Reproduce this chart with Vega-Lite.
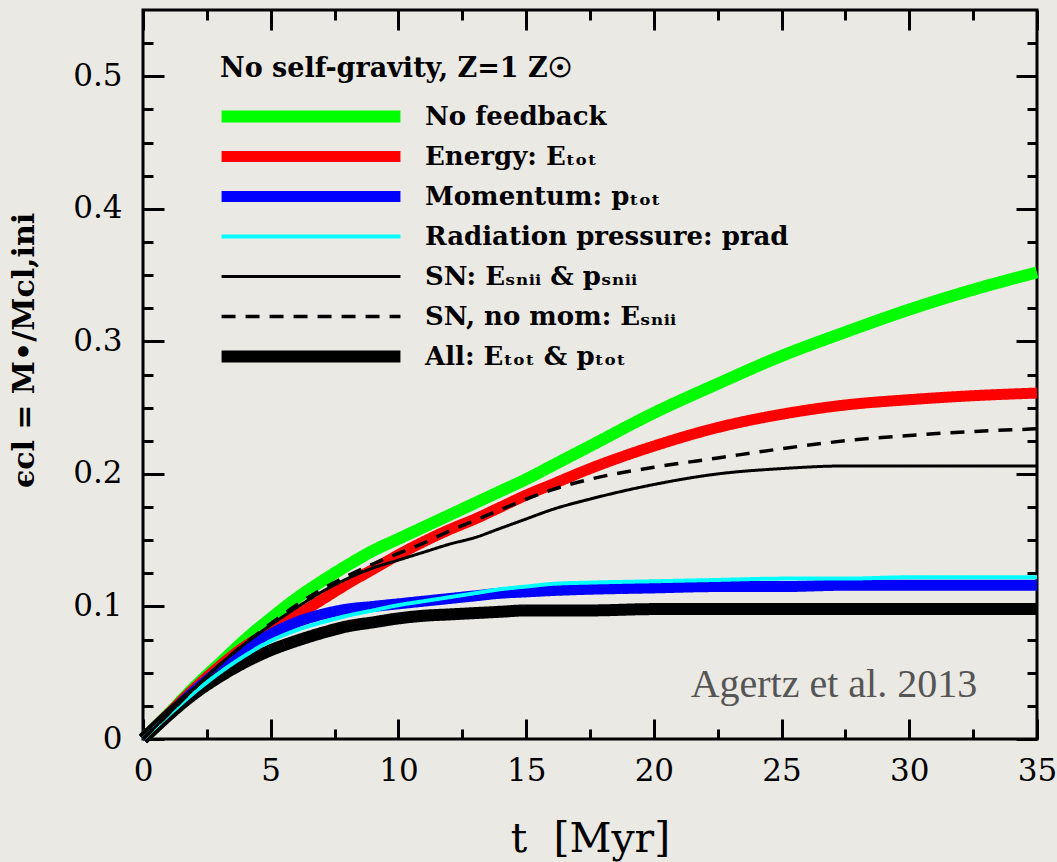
{
  "$schema": "https://vega.github.io/schema/vega-lite/v6.json",
  "width": 894,
  "height": 729,
  "autosize": "none",
  "padding": {"left": 143, "top": 10, "right": 20, "bottom": 123},
  "background": "#ebe9e4",
  "config": {
    "view": {"stroke": "#000000", "strokeWidth": 3},
    "axis": {
      "domain": false,
      "grid": false,
      "tickColor": "#000000",
      "tickWidth": 3,
      "tickCap": "butt",
      "labelFont": "DejaVu Serif",
      "labelFontSize": 31,
      "labelColor": "#000000",
      "labelFlush": false,
      "labelOverlap": false,
      "titleColor": "#000000"
    },
    "legend": {
      "orient": "none",
      "legendX": 77,
      "legendY": 46,
      "padding": 0,
      "symbolType": "M-20,0H20",
      "symbolSize": 80,
      "symbolOffset": 78,
      "labelOffset": 101,
      "clipHeight": 25,
      "labelFont": "DejaVu Serif",
      "labelFontWeight": "bold",
      "labelFontSize": 26,
      "labelColor": "#000000",
      "labelLimit": 0,
      "titleFont": "DejaVu Serif",
      "titleFontWeight": "bold",
      "titleFontSize": 27,
      "titleColor": "#000000",
      "titlePadding": 21,
      "titleLimit": 0,
      "rowPadding": 13
    }
  },
  "data": {
    "values": [
      {"run": "No feedback", "t": 0, "eps": 0}, {"run": "No feedback", "t": 1, "eps": 0.019}, {"run": "No feedback", "t": 2, "eps": 0.039}, {"run": "No feedback", "t": 3, "eps": 0.057}, {"run": "No feedback", "t": 4, "eps": 0.075}, {"run": "No feedback", "t": 5, "eps": 0.091}, {"run": "No feedback", "t": 6, "eps": 0.106}, {"run": "No feedback", "t": 7, "eps": 0.119}, {"run": "No feedback", "t": 8, "eps": 0.131}, {"run": "No feedback", "t": 9, "eps": 0.142}, {"run": "No feedback", "t": 10, "eps": 0.151}, {"run": "No feedback", "t": 11, "eps": 0.160}, {"run": "No feedback", "t": 12, "eps": 0.169}, {"run": "No feedback", "t": 13, "eps": 0.178}, {"run": "No feedback", "t": 14, "eps": 0.187}, {"run": "No feedback", "t": 15, "eps": 0.196}, {"run": "No feedback", "t": 16, "eps": 0.206}, {"run": "No feedback", "t": 17.5, "eps": 0.221}, {"run": "No feedback", "t": 20, "eps": 0.246}, {"run": "No feedback", "t": 22.5, "eps": 0.268}, {"run": "No feedback", "t": 25, "eps": 0.289}, {"run": "No feedback", "t": 27.5, "eps": 0.307}, {"run": "No feedback", "t": 30, "eps": 0.324}, {"run": "No feedback", "t": 32.5, "eps": 0.339}, {"run": "No feedback", "t": 35, "eps": 0.352},

      {"run": "Energy: Eₜₒₜ", "t": 0, "eps": 0}, {"run": "Energy: Eₜₒₜ", "t": 1, "eps": 0.019}, {"run": "Energy: Eₜₒₜ", "t": 2, "eps": 0.038}, {"run": "Energy: Eₜₒₜ", "t": 3, "eps": 0.055}, {"run": "Energy: Eₜₒₜ", "t": 4, "eps": 0.070}, {"run": "Energy: Eₜₒₜ", "t": 5, "eps": 0.081}, {"run": "Energy: Eₜₒₜ", "t": 6, "eps": 0.093}, {"run": "Energy: Eₜₒₜ", "t": 7, "eps": 0.105}, {"run": "Energy: Eₜₒₜ", "t": 8, "eps": 0.117}, {"run": "Energy: Eₜₒₜ", "t": 9, "eps": 0.128}, {"run": "Energy: Eₜₒₜ", "t": 10, "eps": 0.139}, {"run": "Energy: Eₜₒₜ", "t": 11, "eps": 0.149}, {"run": "Energy: Eₜₒₜ", "t": 12, "eps": 0.158}, {"run": "Energy: Eₜₒₜ", "t": 13, "eps": 0.166}, {"run": "Energy: Eₜₒₜ", "t": 14, "eps": 0.175}, {"run": "Energy: Eₜₒₜ", "t": 15, "eps": 0.184}, {"run": "Energy: Eₜₒₜ", "t": 16, "eps": 0.192}, {"run": "Energy: Eₜₒₜ", "t": 17.5, "eps": 0.204}, {"run": "Energy: Eₜₒₜ", "t": 20, "eps": 0.221}, {"run": "Energy: Eₜₒₜ", "t": 22.5, "eps": 0.235}, {"run": "Energy: Eₜₒₜ", "t": 25, "eps": 0.245}, {"run": "Energy: Eₜₒₜ", "t": 27.5, "eps": 0.252}, {"run": "Energy: Eₜₒₜ", "t": 30, "eps": 0.256}, {"run": "Energy: Eₜₒₜ", "t": 32.5, "eps": 0.259}, {"run": "Energy: Eₜₒₜ", "t": 35, "eps": 0.261},

      {"run": "Momentum: pₜₒₜ", "t": 0, "eps": 0}, {"run": "Momentum: pₜₒₜ", "t": 1, "eps": 0.018}, {"run": "Momentum: pₜₒₜ", "t": 2, "eps": 0.036}, {"run": "Momentum: pₜₒₜ", "t": 3, "eps": 0.052}, {"run": "Momentum: pₜₒₜ", "t": 4, "eps": 0.067}, {"run": "Momentum: pₜₒₜ", "t": 5, "eps": 0.079}, {"run": "Momentum: pₜₒₜ", "t": 6, "eps": 0.088}, {"run": "Momentum: pₜₒₜ", "t": 7, "eps": 0.094}, {"run": "Momentum: pₜₒₜ", "t": 8, "eps": 0.098}, {"run": "Momentum: pₜₒₜ", "t": 9, "eps": 0.100}, {"run": "Momentum: pₜₒₜ", "t": 10, "eps": 0.102}, {"run": "Momentum: pₜₒₜ", "t": 11, "eps": 0.104}, {"run": "Momentum: pₜₒₜ", "t": 12, "eps": 0.106}, {"run": "Momentum: pₜₒₜ", "t": 13, "eps": 0.108}, {"run": "Momentum: pₜₒₜ", "t": 14, "eps": 0.110}, {"run": "Momentum: pₜₒₜ", "t": 15, "eps": 0.111}, {"run": "Momentum: pₜₒₜ", "t": 16, "eps": 0.112}, {"run": "Momentum: pₜₒₜ", "t": 17.5, "eps": 0.113}, {"run": "Momentum: pₜₒₜ", "t": 20, "eps": 0.114}, {"run": "Momentum: pₜₒₜ", "t": 22.5, "eps": 0.115}, {"run": "Momentum: pₜₒₜ", "t": 25, "eps": 0.115}, {"run": "Momentum: pₜₒₜ", "t": 27.5, "eps": 0.116}, {"run": "Momentum: pₜₒₜ", "t": 30, "eps": 0.116}, {"run": "Momentum: pₜₒₜ", "t": 32.5, "eps": 0.116}, {"run": "Momentum: pₜₒₜ", "t": 35, "eps": 0.116},

      {"run": "All: Eₜₒₜ & pₜₒₜ", "t": 0, "eps": 0}, {"run": "All: Eₜₒₜ & pₜₒₜ", "t": 1, "eps": 0.018}, {"run": "All: Eₜₒₜ & pₜₒₜ", "t": 2, "eps": 0.034}, {"run": "All: Eₜₒₜ & pₜₒₜ", "t": 3, "eps": 0.047}, {"run": "All: Eₜₒₜ & pₜₒₜ", "t": 4, "eps": 0.058}, {"run": "All: Eₜₒₜ & pₜₒₜ", "t": 5, "eps": 0.067}, {"run": "All: Eₜₒₜ & pₜₒₜ", "t": 6, "eps": 0.074}, {"run": "All: Eₜₒₜ & pₜₒₜ", "t": 7, "eps": 0.080}, {"run": "All: Eₜₒₜ & pₜₒₜ", "t": 8, "eps": 0.085}, {"run": "All: Eₜₒₜ & pₜₒₜ", "t": 9, "eps": 0.088}, {"run": "All: Eₜₒₜ & pₜₒₜ", "t": 10, "eps": 0.091}, {"run": "All: Eₜₒₜ & pₜₒₜ", "t": 11, "eps": 0.093}, {"run": "All: Eₜₒₜ & pₜₒₜ", "t": 12, "eps": 0.094}, {"run": "All: Eₜₒₜ & pₜₒₜ", "t": 13, "eps": 0.095}, {"run": "All: Eₜₒₜ & pₜₒₜ", "t": 14, "eps": 0.096}, {"run": "All: Eₜₒₜ & pₜₒₜ", "t": 15, "eps": 0.097}, {"run": "All: Eₜₒₜ & pₜₒₜ", "t": 16, "eps": 0.097}, {"run": "All: Eₜₒₜ & pₜₒₜ", "t": 17.5, "eps": 0.097}, {"run": "All: Eₜₒₜ & pₜₒₜ", "t": 20, "eps": 0.098}, {"run": "All: Eₜₒₜ & pₜₒₜ", "t": 22.5, "eps": 0.098}, {"run": "All: Eₜₒₜ & pₜₒₜ", "t": 25, "eps": 0.098}, {"run": "All: Eₜₒₜ & pₜₒₜ", "t": 27.5, "eps": 0.098}, {"run": "All: Eₜₒₜ & pₜₒₜ", "t": 30, "eps": 0.098}, {"run": "All: Eₜₒₜ & pₜₒₜ", "t": 32.5, "eps": 0.098}, {"run": "All: Eₜₒₜ & pₜₒₜ", "t": 35, "eps": 0.098},

      {"run": "Radiation pressure: prad", "t": 0, "eps": 0}, {"run": "Radiation pressure: prad", "t": 1, "eps": 0.018}, {"run": "Radiation pressure: prad", "t": 2, "eps": 0.035}, {"run": "Radiation pressure: prad", "t": 3, "eps": 0.050}, {"run": "Radiation pressure: prad", "t": 4, "eps": 0.063}, {"run": "Radiation pressure: prad", "t": 5, "eps": 0.074}, {"run": "Radiation pressure: prad", "t": 6, "eps": 0.082}, {"run": "Radiation pressure: prad", "t": 7, "eps": 0.088}, {"run": "Radiation pressure: prad", "t": 8, "eps": 0.093}, {"run": "Radiation pressure: prad", "t": 9, "eps": 0.097}, {"run": "Radiation pressure: prad", "t": 10, "eps": 0.101}, {"run": "Radiation pressure: prad", "t": 11, "eps": 0.104}, {"run": "Radiation pressure: prad", "t": 12, "eps": 0.107}, {"run": "Radiation pressure: prad", "t": 13, "eps": 0.110}, {"run": "Radiation pressure: prad", "t": 14, "eps": 0.113}, {"run": "Radiation pressure: prad", "t": 15, "eps": 0.115}, {"run": "Radiation pressure: prad", "t": 16, "eps": 0.117}, {"run": "Radiation pressure: prad", "t": 17.5, "eps": 0.118}, {"run": "Radiation pressure: prad", "t": 20, "eps": 0.119}, {"run": "Radiation pressure: prad", "t": 22.5, "eps": 0.120}, {"run": "Radiation pressure: prad", "t": 25, "eps": 0.121}, {"run": "Radiation pressure: prad", "t": 27.5, "eps": 0.121}, {"run": "Radiation pressure: prad", "t": 30, "eps": 0.122}, {"run": "Radiation pressure: prad", "t": 32.5, "eps": 0.122}, {"run": "Radiation pressure: prad", "t": 35, "eps": 0.122},

      {"run": "SN: Eₛₙᵢᵢ & pₛₙᵢᵢ", "t": 0, "eps": 0}, {"run": "SN: Eₛₙᵢᵢ & pₛₙᵢᵢ", "t": 1, "eps": 0.019}, {"run": "SN: Eₛₙᵢᵢ & pₛₙᵢᵢ", "t": 2, "eps": 0.038}, {"run": "SN: Eₛₙᵢᵢ & pₛₙᵢᵢ", "t": 3, "eps": 0.056}, {"run": "SN: Eₛₙᵢᵢ & pₛₙᵢᵢ", "t": 4, "eps": 0.072}, {"run": "SN: Eₛₙᵢᵢ & pₛₙᵢᵢ", "t": 5, "eps": 0.086}, {"run": "SN: Eₛₙᵢᵢ & pₛₙᵢᵢ", "t": 6, "eps": 0.099}, {"run": "SN: Eₛₙᵢᵢ & pₛₙᵢᵢ", "t": 7, "eps": 0.111}, {"run": "SN: Eₛₙᵢᵢ & pₛₙᵢᵢ", "t": 8, "eps": 0.121}, {"run": "SN: Eₛₙᵢᵢ & pₛₙᵢᵢ", "t": 9, "eps": 0.129}, {"run": "SN: Eₛₙᵢᵢ & pₛₙᵢᵢ", "t": 10, "eps": 0.135}, {"run": "SN: Eₛₙᵢᵢ & pₛₙᵢᵢ", "t": 11, "eps": 0.141}, {"run": "SN: Eₛₙᵢᵢ & pₛₙᵢᵢ", "t": 12, "eps": 0.147}, {"run": "SN: Eₛₙᵢᵢ & pₛₙᵢᵢ", "t": 13, "eps": 0.152}, {"run": "SN: Eₛₙᵢᵢ & pₛₙᵢᵢ", "t": 14, "eps": 0.159}, {"run": "SN: Eₛₙᵢᵢ & pₛₙᵢᵢ", "t": 15, "eps": 0.166}, {"run": "SN: Eₛₙᵢᵢ & pₛₙᵢᵢ", "t": 16, "eps": 0.173}, {"run": "SN: Eₛₙᵢᵢ & pₛₙᵢᵢ", "t": 17.5, "eps": 0.181}, {"run": "SN: Eₛₙᵢᵢ & pₛₙᵢᵢ", "t": 20, "eps": 0.192}, {"run": "SN: Eₛₙᵢᵢ & pₛₙᵢᵢ", "t": 22.5, "eps": 0.200}, {"run": "SN: Eₛₙᵢᵢ & pₛₙᵢᵢ", "t": 25, "eps": 0.204}, {"run": "SN: Eₛₙᵢᵢ & pₛₙᵢᵢ", "t": 27.5, "eps": 0.206}, {"run": "SN: Eₛₙᵢᵢ & pₛₙᵢᵢ", "t": 30, "eps": 0.206}, {"run": "SN: Eₛₙᵢᵢ & pₛₙᵢᵢ", "t": 32.5, "eps": 0.206}, {"run": "SN: Eₛₙᵢᵢ & pₛₙᵢᵢ", "t": 35, "eps": 0.206},

      {"run": "SN, no mom: Eₛₙᵢᵢ", "t": 0, "eps": 0}, {"run": "SN, no mom: Eₛₙᵢᵢ", "t": 1, "eps": 0.019}, {"run": "SN, no mom: Eₛₙᵢᵢ", "t": 2, "eps": 0.038}, {"run": "SN, no mom: Eₛₙᵢᵢ", "t": 3, "eps": 0.056}, {"run": "SN, no mom: Eₛₙᵢᵢ", "t": 4, "eps": 0.072}, {"run": "SN, no mom: Eₛₙᵢᵢ", "t": 5, "eps": 0.087}, {"run": "SN, no mom: Eₛₙᵢᵢ", "t": 6, "eps": 0.101}, {"run": "SN, no mom: Eₛₙᵢᵢ", "t": 7, "eps": 0.113}, {"run": "SN, no mom: Eₛₙᵢᵢ", "t": 8, "eps": 0.123}, {"run": "SN, no mom: Eₛₙᵢᵢ", "t": 9, "eps": 0.132}, {"run": "SN, no mom: Eₛₙᵢᵢ", "t": 10, "eps": 0.140}, {"run": "SN, no mom: Eₛₙᵢᵢ", "t": 11, "eps": 0.148}, {"run": "SN, no mom: Eₛₙᵢᵢ", "t": 12, "eps": 0.157}, {"run": "SN, no mom: Eₛₙᵢᵢ", "t": 13, "eps": 0.165}, {"run": "SN, no mom: Eₛₙᵢᵢ", "t": 14, "eps": 0.173}, {"run": "SN, no mom: Eₛₙᵢᵢ", "t": 15, "eps": 0.181}, {"run": "SN, no mom: Eₛₙᵢᵢ", "t": 16, "eps": 0.188}, {"run": "SN, no mom: Eₛₙᵢᵢ", "t": 17.5, "eps": 0.196}, {"run": "SN, no mom: Eₛₙᵢᵢ", "t": 20, "eps": 0.205}, {"run": "SN, no mom: Eₛₙᵢᵢ", "t": 22.5, "eps": 0.212}, {"run": "SN, no mom: Eₛₙᵢᵢ", "t": 25, "eps": 0.219}, {"run": "SN, no mom: Eₛₙᵢᵢ", "t": 27.5, "eps": 0.225}, {"run": "SN, no mom: Eₛₙᵢᵢ", "t": 30, "eps": 0.229}, {"run": "SN, no mom: Eₛₙᵢᵢ", "t": 32.5, "eps": 0.232}, {"run": "SN, no mom: Eₛₙᵢᵢ", "t": 35, "eps": 0.234}
    ]
  },
  "layer": [
    {
      "mark": {"type": "line", "interpolate": "monotone", "strokeCap": "butt", "strokeJoin": "round"},
      "encoding": {
        "x": {
          "field": "t", "type": "quantitative",
          "scale": {"domain": [0, 35], "nice": false, "zero": false},
          "axis": {
            "orient": "bottom", "values": [0, 5, 10, 15, 20, 25, 30, 35],
            "tickSize": -20, "labelPadding": 37,
            "title": "t\u00a0\u00a0[Myr]", "titleFont": "DejaVu Serif", "titleFontSize": 41, "titleFontWeight": "normal", "titlePadding": 33
          }
        },
        "y": {
          "field": "eps", "type": "quantitative",
          "scale": {"domain": [0, 0.55], "nice": false, "zero": false},
          "axis": {
            "orient": "left", "values": [0, 0.1, 0.2, 0.3, 0.4, 0.5], "format": "~g",
            "tickSize": -21, "labelPadding": 42,
            "title": "ϵcl = M•/Mcl,ini", "titleFont": "DejaVu Serif", "titleFontSize": 30, "titleFontWeight": "bold",
            "titleX": -110, "titleY": 340, "titleAngle": 270, "titleAlign": "center", "titleBaseline": "alphabetic"
          }
        },
        "color": {
          "field": "run", "type": "nominal",
          "scale": {
            "domain": ["No feedback", "Energy: Eₜₒₜ", "Momentum: pₜₒₜ", "Radiation pressure: prad", "SN: Eₛₙᵢᵢ & pₛₙᵢᵢ", "SN, no mom: Eₛₙᵢᵢ", "All: Eₜₒₜ & pₜₒₜ"],
            "range": ["#00ff00", "#ff0000", "#0000ff", "#00ffff", "#000000", "#000000", "#000000"]
          },
          "legend": {"title": "No self-gravity, Z=1 Z☉", "orient": "none", "legendX": 77, "legendY": 46}
        },
        "strokeWidth": {
          "field": "run", "type": "nominal",
          "scale": {
            "type": "ordinal",
            "domain": ["No feedback", "Energy: Eₜₒₜ", "Momentum: pₜₒₜ", "Radiation pressure: prad", "SN: Eₛₙᵢᵢ & pₛₙᵢᵢ", "SN, no mom: Eₛₙᵢᵢ", "All: Eₜₒₜ & pₜₒₜ"],
            "range": [12, 11, 11, 4, 3, 3.5, 12]
          },
          "legend": {"title": "No self-gravity, Z=1 Z☉", "orient": "none", "legendX": 77, "legendY": 46}
        },
        "strokeDash": {
          "field": "run", "type": "nominal",
          "scale": {
            "domain": ["No feedback", "Energy: Eₜₒₜ", "Momentum: pₜₒₜ", "Radiation pressure: prad", "SN: Eₛₙᵢᵢ & pₛₙᵢᵢ", "SN, no mom: Eₛₙᵢᵢ", "All: Eₜₒₜ & pₜₒₜ"],
            "range": [[1, 0], [1, 0], [1, 0], [1, 0], [1, 0], [14, 10], [1, 0]]
          },
          "legend": {"title": "No self-gravity, Z=1 Z☉", "orient": "none", "legendX": 77, "legendY": 46}
        }
      }
    },
    {
      "mark": {"type": "point", "opacity": 0},
      "encoding": {
        "x": {
          "field": "t", "type": "quantitative",
          "scale": {"domain": [0, 35], "nice": false, "zero": false},
          "axis": {"orient": "bottom", "values": [2.5, 7.5, 12.5, 17.5, 22.5, 27.5, 32.5], "tickSize": -10, "labels": false, "title": null}
        },
        "y": {
          "field": "eps", "type": "quantitative",
          "scale": {"domain": [0, 0.55], "nice": false, "zero": false},
          "axis": {"orient": "left", "values": [0.025, 0.05, 0.075, 0.125, 0.15, 0.175, 0.225, 0.25, 0.275, 0.325, 0.35, 0.375, 0.425, 0.45, 0.475, 0.525], "tickSize": -10, "labels": false, "title": null}
        }
      }
    },
    {
      "mark": {"type": "point", "opacity": 0},
      "encoding": {
        "x": {
          "field": "t", "type": "quantitative",
          "scale": {"domain": [0, 35], "nice": false, "zero": false},
          "axis": {"orient": "top", "values": [0, 5, 10, 15, 20, 25, 30, 35], "tickSize": -20, "labels": false, "title": null}
        },
        "y": {
          "field": "eps", "type": "quantitative",
          "scale": {"domain": [0, 0.55], "nice": false, "zero": false},
          "axis": {"orient": "right", "values": [0, 0.1, 0.2, 0.3, 0.4, 0.5], "tickSize": -21, "labels": false, "title": null}
        }
      }
    },
    {
      "mark": {"type": "point", "opacity": 0},
      "encoding": {
        "x": {
          "field": "t", "type": "quantitative",
          "scale": {"domain": [0, 35], "nice": false, "zero": false},
          "axis": {"orient": "top", "values": [2.5, 7.5, 12.5, 17.5, 22.5, 27.5, 32.5], "tickSize": -10, "labels": false, "title": null}
        },
        "y": {
          "field": "eps", "type": "quantitative",
          "scale": {"domain": [0, 0.55], "nice": false, "zero": false},
          "axis": {"orient": "right", "values": [0.025, 0.05, 0.075, 0.125, 0.15, 0.175, 0.225, 0.25, 0.275, 0.325, 0.35, 0.375, 0.425, 0.45, 0.475, 0.525], "tickSize": -10, "labels": false, "title": null}
        }
      }
    },
    {
      "data": {"values": [{"note": "Agertz et al. 2013"}]},
      "mark": {"type": "text", "font": "Liberation Serif", "fontSize": 40, "color": "#555555", "align": "center", "baseline": "alphabetic"},
      "encoding": {
        "x": {"datum": 27.05, "type": "quantitative", "scale": {"domain": [0, 35], "nice": false, "zero": false}, "axis": null},
        "y": {"datum": 0.032, "type": "quantitative", "scale": {"domain": [0, 0.55], "nice": false, "zero": false}, "axis": null},
        "text": {"field": "note"}
      }
    }
  ],
  "resolve": {"axis": {"x": "independent", "y": "independent"}}
}
